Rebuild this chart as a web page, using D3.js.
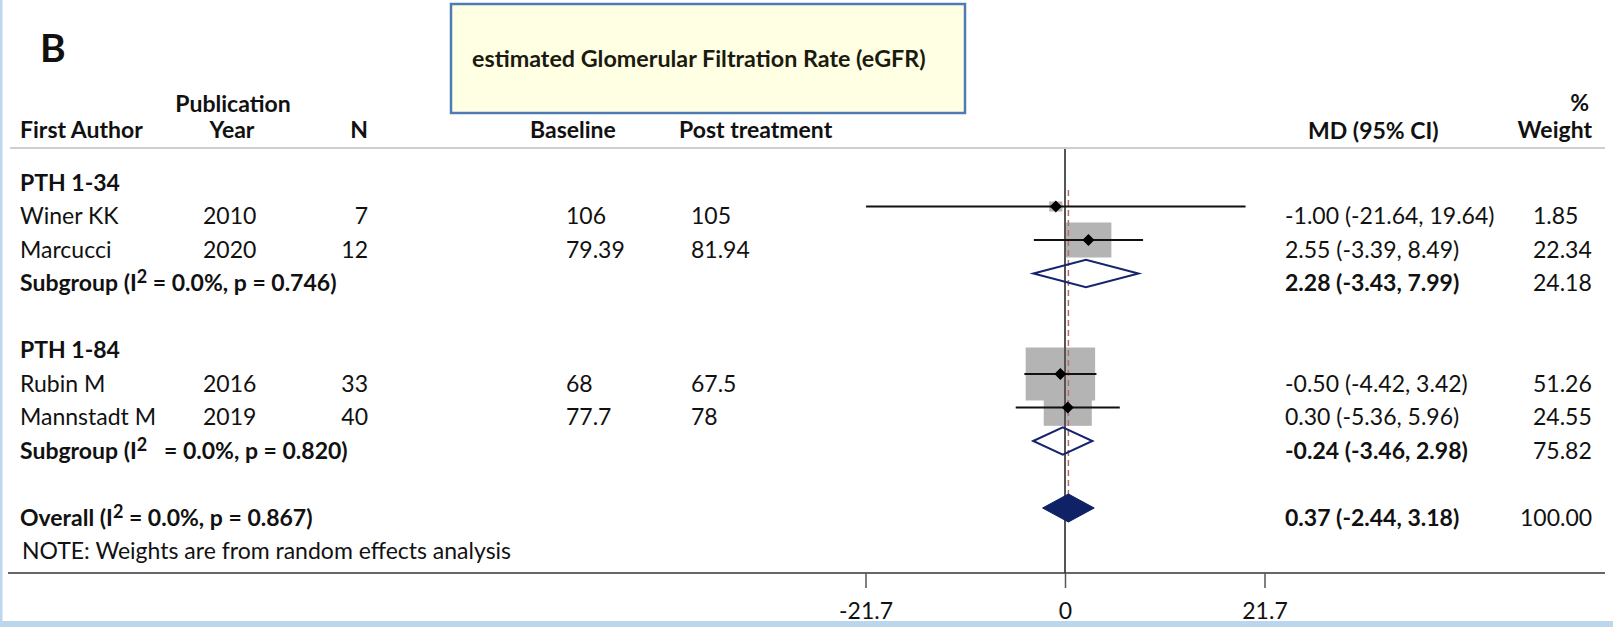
<!DOCTYPE html>
<html>
<head>
<meta charset="utf-8">
<script src="https://cdn.jsdelivr.net/npm/d3@7/dist/d3.min.js"></script>
<style>
  html, body { margin: 0; padding: 0; background: #ffffff; }
  svg { display: block; }
  text { font-family: Lato, "Open Sans", sans-serif; fill: #111; white-space: pre; }
</style>
</head>
<body>
<svg id="chart" width="1613" height="627"></svg>
<script>
// ---- study-level data ----
const authors      = ["Winer KK", "Marcucci", "Rubin M", "Mannstadt M"];
const years        = [2010, 2020, 2016, 2019];
const sampleN      = [7, 12, 33, 40];
const baselineVals = ["106", "79.39", "68", "77.7"];
const postVals     = ["105", "81.94", "67.5", "78"];
const md           = [-1.00, 2.55, -0.50, 0.30];
const ciLow        = [-21.64, -3.39, -4.42, -5.36];
const ciHigh       = [19.64, 8.49, 3.42, 5.96];
const weights      = [1.85, 22.34, 51.26, 24.55];
const studyGroup   = [0, 0, 1, 1];

// ---- subgroup pooled estimates ----
const groups      = ["PTH 1-34", "PTH 1-84"];
const groupMd     = [2.28, -0.24];
const groupLow    = [-3.43, -3.46];
const groupHigh   = [7.99, 2.98];
const groupWeight = [24.18, 75.82];
const groupI2     = ["0.0%", "0.0%"];
const groupP      = ["0.746", "0.820"];
const groupGap    = ["", "  "];

// ---- overall pooled estimate ----
const overallMd = 0.37, overallLow = -2.44, overallHigh = 3.18, overallWeight = 100.00;
const overallI2 = "0.0%", overallP = "0.867";

// ---- axis ----
const axisTicks = [-21.7, 0, 21.7];

const title = "estimated Glomerular Filtration Rate (eGFR)";
const note = "NOTE: Weights are from random effects analysis";

const loc = d3.formatLocale({decimal: ".", thousands: ",", grouping: [3], currency: ["", ""], minus: "-"});
const f2 = loc.format(".2f");
const f1 = loc.format(".1f");

const svg = d3.select("#chart");
const W = 1613, H = 627;

// frame strips
svg.append("rect").attr("x", 0).attr("y", 0).attr("width", 2.5).attr("height", H).attr("fill", "#bcd6ee");
svg.append("rect").attr("x", 0).attr("y", 621).attr("width", W).attr("height", 6).attr("fill", "#bcd6ee");

// panel letter
svg.append("text").attr("x", 40).attr("y", 62)
  .style("font-size", "39px").style("font-weight", 700).text("B");

// title box
svg.append("rect").attr("x", 451).attr("y", 4).attr("width", 514).attr("height", 109)
  .attr("fill", "#ffffe3").attr("stroke", "#4f7bb3").attr("stroke-width", 2.5);
svg.append("text").attr("x", 472).attr("y", 67)
  .style("font-size", "23.3px").style("font-weight", 700).style("fill", "#1a1a10").text(title);

// ---- layout of rows ----
const rows = [];
groups.forEach((g, gi) => {
  rows.push({type: "group", g: gi});
  studyGroup.forEach((sg, si) => { if (sg === gi) rows.push({type: "study", s: si}); });
  rows.push({type: "subgroup", g: gi});
  rows.push({type: "blank"});
});
rows.push({type: "overall"});
rows.push({type: "note"});

const y = d3.scalePoint().domain(d3.range(rows.length)).range([173, 541.5]);
const x = d3.scaleLinear().domain([-21.7, 21.7]).range([865.5, 1264.5]);
const textDrop = 17.5;

// column positions
const col = {author: 20, year: 203, nEnd: 368, base: 566, post: 691, mdText: 1285, wStart: 1533, digitW: 13};

// header
const hdr = svg.append("g").style("font-size", "23px").style("font-weight", 700);
hdr.append("text").attr("x", 20).attr("y", 138).text("First Author");
hdr.append("text").attr("x", 233).attr("y", 112).attr("text-anchor", "middle").text("Publication");
hdr.append("text").attr("x", 232).attr("y", 138).attr("text-anchor", "middle").text("Year");
hdr.append("text").attr("x", 368).attr("y", 138).attr("text-anchor", "end").text("N");
hdr.append("text").attr("x", 530).attr("y", 138).text("Baseline");
hdr.append("text").attr("x", 679).attr("y", 138).text("Post treatment");
hdr.append("text").attr("x", 1308).attr("y", 139).text("MD (95% CI)");
hdr.append("text").attr("x", 1589).attr("y", 111).attr("text-anchor", "end").text("%");
hdr.append("text").attr("x", 1592).attr("y", 138).attr("text-anchor", "end").text("Weight");

svg.append("line").attr("x1", 10).attr("x2", 1605).attr("y1", 148).attr("y2", 148)
  .attr("stroke", "#cfcfcf").attr("stroke-width", 2);

// ---- plot marks ----
const plot = svg.append("g");
const studyRows = rows.map((r, i) => ({...r, i})).filter(r => r.type === "study");
const subRows = rows.map((r, i) => ({...r, i})).filter(r => r.type === "subgroup");
const overallRow = rows.findIndex(r => r.type === "overall");

// weight boxes, area proportional to study weight
const boxW = w => 9.7 * Math.sqrt(w);
const boxH = w => 7.4 * Math.sqrt(w);
plot.selectAll("rect.wbox").data(studyRows).join("rect").attr("class", "wbox")
  .attr("x", d => x(md[d.s]) - boxW(weights[d.s]) / 2)
  .attr("y", d => y(d.i) - boxH(weights[d.s]) / 2)
  .attr("width", d => boxW(weights[d.s]))
  .attr("height", d => boxH(weights[d.s]))
  .attr("fill", "#b4b4b4");

// line of no effect
plot.append("line").attr("x1", x(0)).attr("x2", x(0)).attr("y1", 149).attr("y2", 573)
  .attr("stroke", "#555").attr("stroke-width", 2);

// overall effect reference line
plot.append("line").attr("x1", x(overallMd)).attr("x2", x(overallMd))
  .attr("y1", y(0) + 17).attr("y2", y(overallRow) + 14)
  .attr("stroke", "#b76a6a").attr("stroke-width", 1.5).attr("stroke-dasharray", "6,4");

// confidence intervals
plot.selectAll("line.ci").data(studyRows).join("line").attr("class", "ci")
  .attr("x1", d => x(ciLow[d.s])).attr("x2", d => x(ciHigh[d.s]))
  .attr("y1", d => y(d.i)).attr("y2", d => y(d.i))
  .attr("stroke", "#111").attr("stroke-width", 2);

// point estimates
plot.selectAll("path.est").data(studyRows).join("path").attr("class", "est")
  .attr("d", d => {
    const cx = x(md[d.s]), cy = y(d.i), r = 6;
    return `M${cx - r},${cy}L${cx},${cy - r}L${cx + r},${cy}L${cx},${cy + r}Z`;
  })
  .attr("fill", "#000");

const diamond = (m, lo, hi, cy, h) =>
  `M${x(lo)},${cy}L${x(m)},${cy - h}L${x(hi)},${cy}L${x(m)},${cy + h}Z`;

// subgroup diamonds
plot.selectAll("path.sub").data(subRows).join("path").attr("class", "sub")
  .attr("d", d => diamond(groupMd[d.g], groupLow[d.g], groupHigh[d.g], y(d.i), 13.7))
  .attr("fill", "none").attr("stroke", "#16236e").attr("stroke-width", 2);

// overall diamond
plot.append("path")
  .attr("d", diamond(overallMd, overallLow, overallHigh, y(overallRow), 14))
  .attr("fill", "#0f2266").attr("stroke", "#0f2266").attr("stroke-width", 1);

// ---- axis ----
svg.append("line").attr("x1", 8).attr("x2", 1605).attr("y1", 573).attr("y2", 573)
  .attr("stroke", "#333").attr("stroke-width", 1.5);
const axis = svg.append("g").attr("transform", "translate(0,573)")
  .call(d3.axisBottom(x).tickValues(axisTicks).tickSize(15)
    .tickFormat(v => v === 0 ? "0" : f1(v)));
axis.select(".domain").remove();
axis.selectAll(".tick line").attr("stroke", "#555").attr("stroke-width", 1.5);
axis.selectAll(".tick text").attr("y", 46).attr("dy", null)
  .style("font-family", "Lato, sans-serif").style("font-size", "23px").style("fill", "#111");

// ---- table text ----
const body = svg.append("g").style("font-size", "23px");
const ty = i => y(i) + textDrop;
const mdLabel = (m, lo, hi) => `${f2(m)} (${f2(lo)}, ${f2(hi)})`;
const weightX = w => col.wStart - Math.max(0, String(Math.floor(w)).length - 2) * col.digitW;

// heterogeneity label with superscript
function hetLabel(sel, prefix, gap, i2, p) {
  const t = sel.append("text").style("font-weight", 700);
  t.append("tspan").text(prefix + " (I");
  t.append("tspan").attr("dy", -8).style("font-size", "18px").text("2");
  t.append("tspan").attr("dy", 8).text(gap + " = " + i2 + ", p = " + p + ")");
  return t;
}

rows.forEach((r, i) => {
  const yy = ty(i);
  if (r.type === "group") {
    body.append("text").attr("x", col.author).attr("y", yy).style("font-weight", 700).text(groups[r.g]);
  } else if (r.type === "study") {
    const s = r.s;
    body.append("text").attr("x", col.author).attr("y", yy).text(authors[s]);
    body.append("text").attr("x", col.year).attr("y", yy).text(years[s]);
    body.append("text").attr("x", col.nEnd).attr("y", yy).attr("text-anchor", "end").text(sampleN[s]);
    body.append("text").attr("x", col.base).attr("y", yy).text(baselineVals[s]);
    body.append("text").attr("x", col.post).attr("y", yy).text(postVals[s]);
    body.append("text").attr("x", col.mdText).attr("y", yy).text(mdLabel(md[s], ciLow[s], ciHigh[s]));
    body.append("text").attr("x", weightX(weights[s])).attr("y", yy).text(f2(weights[s]));
  } else if (r.type === "subgroup") {
    const g = r.g;
    hetLabel(body, "Subgroup", groupGap[g], groupI2[g], groupP[g]).attr("x", col.author).attr("y", yy);
    body.append("text").attr("x", col.mdText).attr("y", yy).style("font-weight", 700)
      .text(mdLabel(groupMd[g], groupLow[g], groupHigh[g]));
    body.append("text").attr("x", weightX(groupWeight[g])).attr("y", yy).text(f2(groupWeight[g]));
  } else if (r.type === "overall") {
    hetLabel(body, "Overall", "", overallI2, overallP).attr("x", col.author).attr("y", yy);
    body.append("text").attr("x", col.mdText).attr("y", yy).style("font-weight", 700)
      .text(mdLabel(overallMd, overallLow, overallHigh));
    body.append("text").attr("x", weightX(overallWeight)).attr("y", yy).text(f2(overallWeight));
  } else if (r.type === "note") {
    body.append("text").attr("x", 22).attr("y", yy).text(note);
  }
});
</script>
</body>
</html>
